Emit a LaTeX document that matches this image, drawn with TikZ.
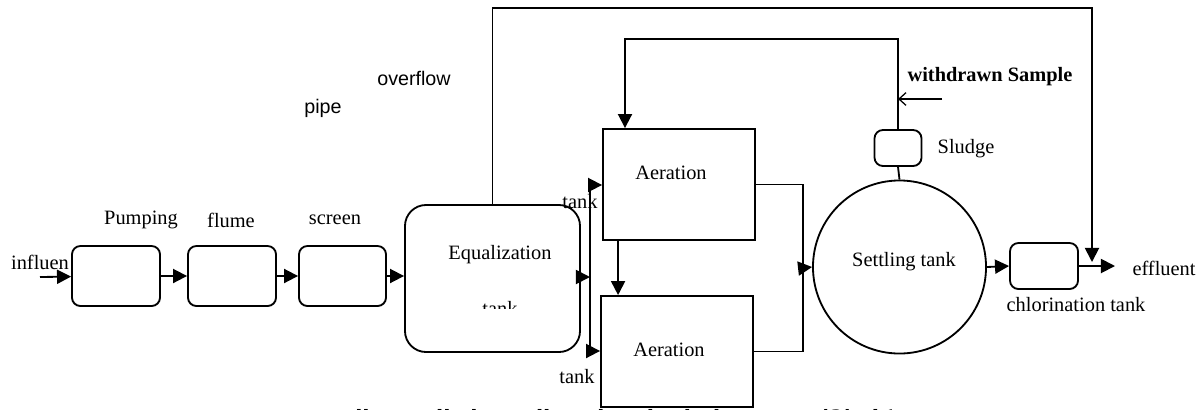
\documentclass[tikz,border=0pt]{standalone}
\usepackage{fontspec}
\setmainfont{Liberation Serif}
\setsansfont{Liberation Sans}
\newfontfamily\arabicfont[Script=Arabic]{DejaVu Sans}
\TeXXeTstate=1
\usetikzlibrary{positioning, arrows.meta}

\begin{document}
\begin{tikzpicture}[x=0.025cm, y=-0.025cm, >={Triangle[length=10pt,width=10pt]},
                line width=1.3pt, font=\fontsize{14.5}{16}\selectfont,
                unit/.style={draw, rounded corners=6pt, minimum width=2.2cm, minimum height=1.5cm, inner sep=0pt},
                tankbox/.style={draw, fill=white, minimum width=3.8cm, minimum height=2.775cm, inner sep=0pt},
                lbl/.style={inner sep=0pt}]

                \useasboundingbox (0,0) rectangle (1202,409);

                % caption, cut by the page edge
                \begin{scope}
                \clip (0,0) rectangle (1202,409);
                \node[lbl, font=\arabicfont\bfseries\fontsize{15}{17}\selectfont] (caption) at (605,420)
                    {\beginR شكل (2) رسم تخطيطي لمحطة معالجة مياه الصرف الصحي\endR};
                \end{scope}

                \node[unit] (pump) at (116,276) {};
                \node[unit] (flume) at (232,276) {};
                \node[unit, minimum width=2.175cm] (screen) at (342.5,276) {};
                \node[unit, rounded corners=15pt, minimum width=4.375cm, minimum height=3.675cm] (eq) at (492.5,278.5) {};
                \node[tankbox] (aer1) at (679,184.5) {};
                \node[tankbox] (aer2) at (677,351.5) {};
                \node[draw, circle, minimum size=4.325cm, inner sep=0pt] (settle) at (899.5,267) {};
                \node[unit, minimum width=1.175cm, minimum height=0.9cm] (sludge) at (898,148) {};
                \node[unit, minimum width=1.7cm, minimum height=1.15cm] (chlor) at (1044,266) {};

                % labels
                \node[lbl] (influen) at (40,262) {influen};
                \node[lbl] (pumplbl) at (141,220) {Pumping};
                \node[lbl] (flumelbl) at (231,220) {flume};
                \node[lbl] (screenlbl) at (335,220) {screen};
                \node[lbl, font=\sffamily\fontsize{14}{16}\selectfont] (overflow) at (414,78) {overflow};
                \node[lbl, font=\sffamily\fontsize{14}{16}\selectfont] (pipe) at (323,108) {pipe};
                \node[lbl] (eqlbl) at (500,255) {Equalization};
                \begin{scope}
                \clip (405,205) rectangle (580,308);
                \node[lbl] (eqtank) at (500,309) {tank};
                \end{scope}
                \node[lbl] (tanktop) at (580,202) {tank};
                \node[lbl] (tankbot) at (577,377) {tank};
                \node[lbl] (aer1lbl) at (671,173) {Aeration};
                \node[lbl] (aer2lbl) at (669,350) {Aeration};
                \node[lbl] (settlelbl) at (904,262) {Settling tank};
                \node[lbl] (sludgelbl) at (966,149) {Sludge};
                \node[lbl, font=\bfseries\fontsize{14.5}{16}\selectfont] (samplelbl) at (990,77) {withdrawn Sample};
                \node[lbl] (chlorlbl) at (1076,305) {chlorination tank};
                \node[lbl] (effluent) at (1164,268) {effluent};

                \coordinate (inflow) at (40,277);
                \coordinate (split) at (590,277);
                \coordinate (splittop) at (590,185);
                \coordinate (splitbot) at (590,351);
                \coordinate (join) at (803,268);
                \coordinate (out) at (1115,266);
                \coordinate (ovcorner) at (1092,8);
                \coordinate (ovend) at (1092,262);
                \coordinate (retcorner) at (625,39);
                \coordinate (sample) at (942,99);

                \path[->]
                (inflow) edge (pump)
                (pump) edge (flume)
                (flume) edge (screen)
                (screen) edge (eq.west |- screen.east)
                (eq.east |- split) edge (split)
                (splittop) edge (aer1.west |- splittop)
                (splitbot) edge (aer2.west |- splitbot)
                ([xshift=0.4cm]aer1.south west) edge ([xshift=0.45cm]aer2.north west)
                (join) edge (settle.west)
                (settle.east) edge (chlor.west)
                (chlor.east) edge (out);

                \draw (splittop) -- (splitbot);
                \draw (aer1.east) -| (join);
                \draw (aer2.east) -| (join);
                \draw[->] (eq.north) |- (ovcorner) -- (ovend);
                \draw[->] (sludge.north) |- (retcorner) -- (aer1.north -| retcorner);
                \draw (sludge.south) -- (settle.north);
                \draw[-{Straight Barb[length=5pt,width=9pt]}, line width=0.9pt] (sample) -- (sample -| sludge.north);

            \end{tikzpicture}
\end{document}
